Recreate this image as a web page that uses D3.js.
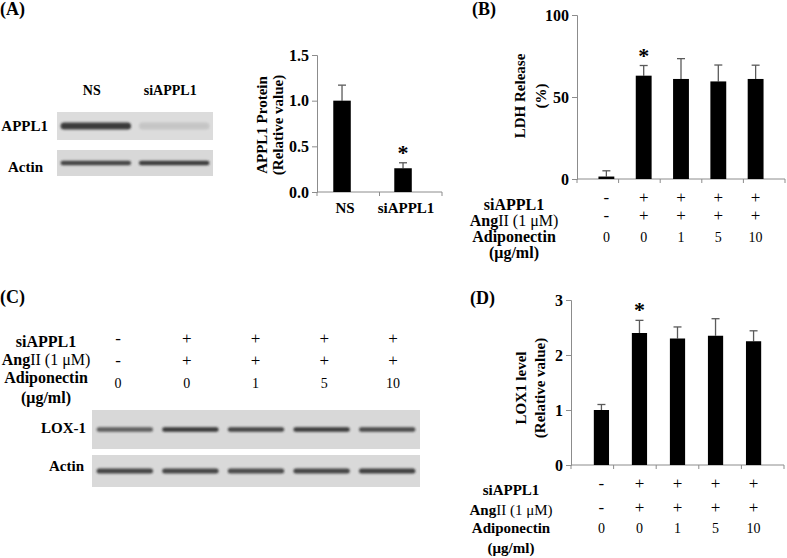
<!DOCTYPE html>
<head>
<meta charset="utf-8">
<title>APPL1 knockdown, LDH release and LOX-1</title>
<script src="https://d3js.org/d3.v7.min.js"></script>
<style>
body {
  margin: 0;
  background: #fff;
}
svg text {
  font-family: "Liberation Serif", "Times New Roman", serif;
}
.axis path, .axis line {
  stroke: #8c8c8c;
  stroke-width: 1px;
}
.axis text {
  font-family: "Liberation Serif", "Times New Roman", serif;
  font-size: 16px;
  font-weight: bold;
  fill: #000;
}
.lbl {
  font-weight: bold;
  fill: #000;
}
.val {
  fill: #000;
}
</style>
</head>
<body>
<script>

// panel A, western blot + bar chart
const blotALanes = ["NS", "siAPPL1"];
const blotAAppl1 = [0.9, 0.12];
const blotAActin = [0.85, 0.9];
const aCats = ["NS", "siAPPL1"];
const aMeans = [1.0, 0.26];
const aErrs = [0.17, 0.06];
const aTicks = [0, 0.5, 1.0, 1.5];

// panel B, LDH release
const bCats = ["c1", "c2", "c3", "c4", "c5"];
const bMeans = [1.5, 63, 61, 59.5, 61];
const bErrs = [3.5, 6.2, 12.4, 10, 8.4];
const bTicks = [0, 50, 100];

// panel C, LOX-1 blot
const blotCLox1 = [0.7, 0.92, 0.85, 0.9, 0.82];
const blotCActin = [0.85, 0.85, 0.82, 0.85, 0.88];

// panel D, LOX1 level
const dMeans = [1.0, 2.4, 2.3, 2.35, 2.25];
const dErrs = [0.1, 0.23, 0.21, 0.31, 0.19];
const dTicks = [0, 1, 2, 3];

// treatment rows shared by B, C, D
const rowSi = ["-", "+", "+", "+", "+"];
const rowAng = ["-", "+", "+", "+", "+"];
const rowAdipo = ["0", "0", "1", "5", "10"];

const width = 787, height = 558;

let svg = d3.select("body").append("svg")
  .attr("width", width)
  .attr("height", height);

svg.append("defs").append("filter")
  .attr("id", "blur")
  .attr("x", "-20%").attr("y", "-200%")
  .attr("width", "140%").attr("height", "500%")
  .append("feGaussianBlur")
  .attr("stdDeviation", 1.1);

// panel letters
[["(A)", 0, 15], ["(B)", 472, 15], ["(C)", 0, 303], ["(D)", 470, 304]].forEach(p => {
  svg.append("text").attr("class", "lbl")
    .attr("x", p[1]).attr("y", p[2])
    .style("font-size", "18px")
    .text(p[0]);
});

function blot(g, lanes, vals, y0, y1, thick, x, bg) {
  g.append("rect")
    .attr("x", x.range()[0]).attr("y", y0)
    .attr("width", x.range()[1] - x.range()[0]).attr("height", y1 - y0)
    .attr("fill", bg);
  let mid = (y0 + y1) / 2;
  g.selectAll(null)
    .data(vals)
    .enter().append("rect")
      .attr("x", (d, i) => x(lanes[i]) + 2)
      .attr("y", mid - thick / 2)
      .attr("width", x.bandwidth() - 4)
      .attr("height", thick)
      .attr("rx", thick / 2)
      .attr("fill", "#2a2a2a")
      .attr("opacity", d => d)
      .attr("filter", "url(#blur)");
}

// ---- A blot
let laneA = d3.scaleBand().domain(blotALanes).range([57, 213]).paddingInner(0.05).paddingOuter(0.02);
let gA = svg.append("g");
blot(gA, blotALanes, blotAAppl1, 112, 140, 7, laneA, "#dcdcdc");
blot(gA, blotALanes, blotAActin, 150, 176, 4.5, laneA, "#d8d8d8");

gA.selectAll(null)
  .data(blotALanes)
  .enter().append("text").attr("class", "lbl")
    .attr("x", d => laneA(d) + laneA.bandwidth() / 2 - 4)
    .attr("y", 95)
    .attr("text-anchor", "middle")
    .style("font-size", "14px")
    .text(d => d);

gA.append("text").attr("class", "lbl").attr("x", 48).attr("y", 131)
  .attr("text-anchor", "end").style("font-size", "15px").text("APPL1");
gA.append("text").attr("class", "lbl").attr("x", 43).attr("y", 172)
  .attr("text-anchor", "end").style("font-size", "15px").text("Actin");

function barPanel(o) {
  let g = svg.append("g");

  g.append("g")
    .attr("class", "axis")
    .attr("transform", "translate(" + o.x.range()[0] + ",0)")
    .call(d3.axisLeft(o.y).tickValues(o.ticks).tickFormat(o.fmt).tickSizeOuter(0).tickSize(5).tickPadding(3));

  // x axis with ticks on category boundaries
  let bounds = o.cats.map(c => o.xb(c)).concat([o.xb.range()[1]]);
  g.append("line")
    .attr("x1", o.x.range()[0]).attr("x2", o.x.range()[1])
    .attr("y1", o.y(0)).attr("y2", o.y(0))
    .attr("stroke", "#8c8c8c");
  g.selectAll(null)
    .data(bounds)
    .enter().append("line")
      .attr("x1", d => d).attr("x2", d => d)
      .attr("y1", o.y(0)).attr("y2", o.y(0) + 4)
      .attr("stroke", "#8c8c8c");

  // error bars
  let cx = (d, i) => o.x(o.cats[i]) + o.x.bandwidth() / 2;
  g.selectAll(null)
    .data(o.means)
    .enter().append("line")
      .attr("x1", cx).attr("x2", cx)
      .attr("y1", d => o.y(d))
      .attr("y2", (d, i) => o.y(d + o.errs[i]))
      .attr("stroke", "#5a5a5a").attr("stroke-width", 1.3);
  g.selectAll(null)
    .data(o.means)
    .enter().append("line")
      .attr("x1", (d, i) => cx(d, i) - 4).attr("x2", (d, i) => cx(d, i) + 4)
      .attr("y1", (d, i) => o.y(d + o.errs[i]))
      .attr("y2", (d, i) => o.y(d + o.errs[i]))
      .attr("stroke", "#5a5a5a").attr("stroke-width", 1.3);

  // bars
  g.selectAll(null)
    .data(o.means)
    .enter().append("rect")
      .attr("x", (d, i) => o.x(o.cats[i]))
      .attr("y", d => o.y(d))
      .attr("width", o.x.bandwidth())
      .attr("height", d => o.y(0) - o.y(d))
      .attr("fill", "#000");

  // significance star
  let si = o.star;
  g.append("text").attr("class", "lbl")
    .attr("x", cx(o.means[si], si))
    .attr("y", o.y(o.means[si] + o.errs[si]) - 3)
    .attr("text-anchor", "middle")
    .style("font-size", "22px")
    .text("*");

  // y title
  o.title.forEach((t, k) => {
    g.append("text").attr("class", "lbl")
      .attr("transform", "translate(" + t[1] + "," + o.titleY + ") rotate(-90)")
      .attr("text-anchor", "middle")
      .style("font-size", "15px")
      .text(t[0]);
  });
  return g;
}

// ---- A chart
let xA = d3.scaleBand().domain(aCats).range([317, 442]).paddingInner(0.713).paddingOuter(0.381).align(0.35);
let xAb = d3.scaleBand().domain(aCats).range([317, 442]);
let yA = d3.scaleLinear().domain([0, 1.5]).range([192, 55]);
let gAc = barPanel({
  x: xA, xb: xAb, y: yA, cats: aCats, means: aMeans, errs: aErrs,
  ticks: aTicks, fmt: d3.format(".1f"), star: 1,
  title: [["APPL1 Protein", 267], ["(Relative value)", 283]], titleY: 125
});
gAc.selectAll(null)
  .data(aCats)
  .enter().append("text").attr("class", "lbl")
    .attr("x", d => xA(d) + xA.bandwidth() / 2 + 3)
    .attr("y", 213)
    .attr("text-anchor", "middle")
    .style("font-size", "15px")
    .text(d => d);

function rows(g, pos, cx, ys, lys, fs) {
  [rowSi, rowAng, rowAdipo].forEach((r, k) => {
    g.selectAll(null)
      .data(r)
      .enter().append("text").attr("class", "val")
        .attr("x", (d, i) => pos(i))
        .attr("y", ys[k])
        .attr("text-anchor", "middle")
        .style("font-size", k == 2 ? "14px" : "17px")
        .text(d => d);
  });
  let t = g.append("g").attr("text-anchor", "middle").style("font-size", fs + "px");
  t.append("text").attr("class", "lbl").attr("x", cx).attr("y", lys[0]).text("siAPPL1");
  let ang = t.append("text").attr("class", "lbl").attr("x", cx).attr("y", lys[1]);
  ang.append("tspan").text("Ang");
  ang.append("tspan").style("font-weight", "normal").text("II (1 \u03bcM)");
  t.append("text").attr("class", "lbl").attr("x", cx).attr("y", lys[2]).text("Adiponectin");
  t.append("text").attr("class", "lbl").attr("x", cx).attr("y", lys[3]).text("(\u03bcg/ml)");
}

// ---- B chart
let xB = d3.scaleBand().domain(bCats).range([577, 785]).padding(0.575);
let xBb = d3.scaleBand().domain(bCats).range([577, 785]);
let yB = d3.scaleLinear().domain([0, 100]).range([179, 15]);
let gB = barPanel({
  x: xB, xb: xBb, y: yB, cats: bCats, means: bMeans, errs: bErrs,
  ticks: bTicks, fmt: d3.format("d"), star: 1,
  title: [["LDH Release", 525], ["(%)", 546]], titleY: 96
});
rows(gB, i => xB(bCats[i]) + xB.bandwidth() / 2, 514, [203, 221, 242], [210, 226, 242, 258], 16);

// ---- C blot
let laneC = d3.scaleBand().domain(bCats).range([92, 420]).paddingInner(0.08).paddingOuter(0.04);
let gC = svg.append("g");
blot(gC, bCats, blotCLox1, 410, 449, 4.5, laneC, "#d8d8d8");
blot(gC, bCats, blotCActin, 455, 487, 5, laneC, "#d9d9d9");
gC.append("text").attr("class", "lbl").attr("x", 86).attr("y", 433)
  .attr("text-anchor", "end").style("font-size", "15px").text("LOX-1");
gC.append("text").attr("class", "lbl").attr("x", 84).attr("y", 471)
  .attr("text-anchor", "end").style("font-size", "15px").text("Actin");
let posC = d3.scalePoint().domain(bCats).range([118, 393]);
rows(gC, i => posC(bCats[i]), 46, [344, 366, 388], [347, 365, 383, 403], 16);

// ---- D chart
let xD = d3.scaleBand().domain(bCats).range([571, 784]).padding(0.6);
let xDb = d3.scaleBand().domain(bCats).range([571, 784]);
let yD = d3.scaleLinear().domain([0, 3]).range([465, 300]);
let gD = barPanel({
  x: xD, xb: xDb, y: yD, cats: bCats, means: dMeans, errs: dErrs,
  ticks: dTicks, fmt: d3.format("d"), star: 1,
  title: [["LOX1 level", 526], ["(Relative value)", 545]], titleY: 388
});
rows(gD, i => xD(bCats[i]) + xD.bandwidth() / 2, 511, [489, 513, 533], [495, 515, 533, 553], 15);

</script>
</body>
